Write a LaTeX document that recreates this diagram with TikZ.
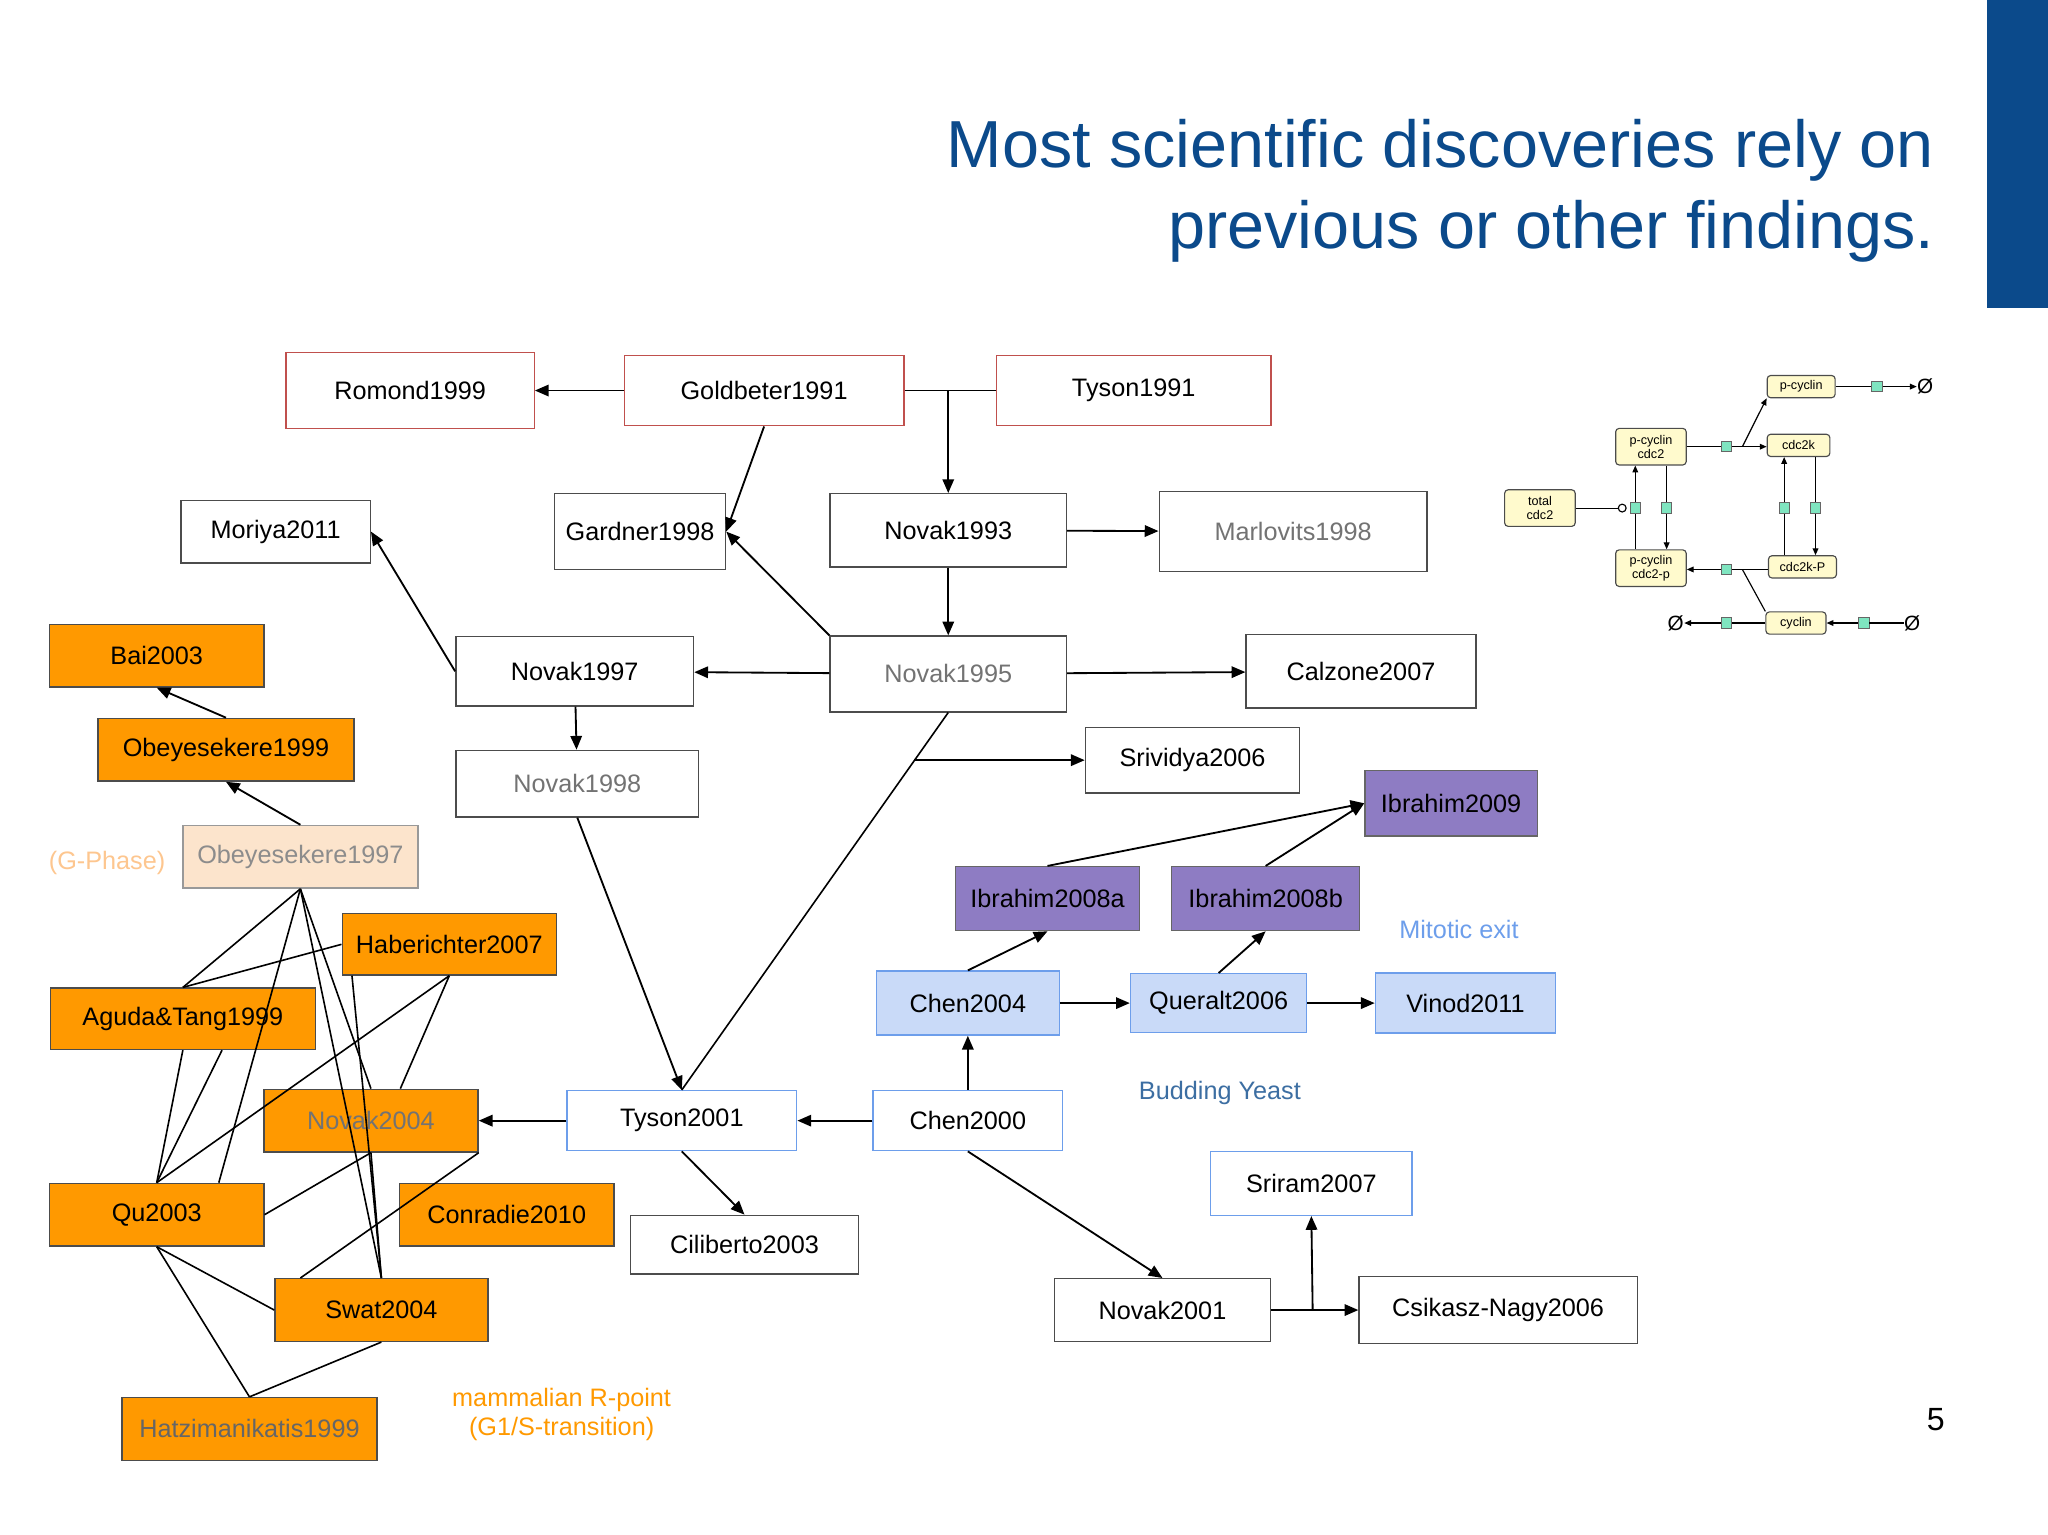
\documentclass[tikz,border=0pt]{standalone}
\usepackage{fontspec}
\setmainfont{Liberation Sans}
\usetikzlibrary{arrows.meta}
\definecolor{tblue}{HTML}{0B4A8B}
\definecolor{redb}{HTML}{C0504D}
\definecolor{orng}{HTML}{FF9900}
\definecolor{peach}{HTML}{FCE4CC}
\definecolor{purp}{HTML}{8E7CC3}
\definecolor{lblue}{HTML}{C9DAF8}
\definecolor{bbord}{HTML}{6D9EEB}
\definecolor{yel}{HTML}{FFFACD}
\definecolor{sq}{HTML}{7FE5C0}
\begin{document}
\begin{tikzpicture}[x=0.02cm,y=-0.02cm,
 wh/.style 2 args={minimum width={#1*0.02cm},minimum height={#2*0.02cm}},
 box/.style={draw=black!70,line width=0.6pt,fill=white,inner sep=0pt,font=\fontsize{11}{13}\selectfont},
 red/.style={box,draw=redb},
 gry/.style={box,text=black!55},
 org/.style={box,fill=orng,draw=black!70},
 pur/.style={box,fill=purp,draw=black!60},
 lb/.style={box,fill=lblue,draw=bbord},
 wb/.style={box,draw=bbord},
 arr/.style={-{Triangle[length=6pt,width=5pt]},line width=0.8pt},
 ln/.style={line width=0.7pt},
 sm/.style={draw=black!70,fill=yel,rounded corners=1.5pt,inner sep=0pt,font=\fontsize{5.5}{6}\selectfont,align=center,line width=0.5pt},
 sq/.style={draw=black!60,fill=sq,minimum size=4.5pt,inner sep=0pt,line width=0.4pt},
 sa/.style={-{Triangle[length=3pt,width=2.5pt]},line width=0.5pt},
 sl/.style={line width=0.5pt}]
\useasboundingbox (0,0) rectangle (1568,1175);
\fill[tblue] (1521,0) rectangle (1568,236);
\node[anchor=east,text=tblue,font=\fontsize{29}{35}\selectfont,align=right] (title) at (1487,146) {Most scientific discoveries rely on\\previous or other findings.};
\node (pg) at (1482,1087) {\fontsize{14}{16}\selectfont 5};
% main nodes
\node[red,wh={190}{58}] (rom) at (314,299) {Romond1999};
\node[red,wh={214}{54}] (gol) at (585,299) {Goldbeter1991};
\node[red,wh={210}{54}] (ty91) at (868,299) {Tyson1991};
\node[box,wh={145}{48}] (mor) at (211,407) {Moriya2011};
\node[box,wh={131}{58}] (gar) at (490,407) {Gardner1998};
\node[box,wh={181}{56}] (n93) at (726,406) {Novak1993};
\node[gry,wh={205}{61}] (mar) at (990,407) {Marlovits1998};
\node[box,wh={182}{53}] (n97) at (440,514) {Novak1997};
\node[gry,wh={181}{58}] (n95) at (726,516) {Novak1995};
\node[box,wh={176}{56}] (cal) at (1042,514) {Calzone2007};
\node[gry,wh={186}{51}] (n98) at (442,600) {Novak1998};
\node[box,wh={164}{50}] (sri) at (913,582) {Srividya2006};
\node[pur,wh={132}{50}] (i09) at (1111,615) {Ibrahim2009};
\node[pur,wh={141}{49}] (i8a) at (802,688) {Ibrahim2008a};
\node[pur,wh={144}{49}] (i8b) at (969,688) {Ibrahim2008b};
\node[text=bbord,font=\fontsize{11}{13}\selectfont] (mit) at (1117,712) {Mitotic exit};
\node[lb,wh={140}{49}] (c04) at (741,768) {Chen2004};
\node[lb,wh={135}{45}] (que) at (933,768) {Queralt2006};
\node[lb,wh={138}{46}] (vin) at (1122,768) {Vinod2011};
\node[text=tblue!80,font=\fontsize{11}{13}\selectfont] (bud) at (934,837) {Budding Yeast};
\node[wb,wh={176}{46}] (t01) at (522,858) {Tyson2001};
\node[wb,wh={145}{46}] (c00) at (741,858) {Chen2000};
\node[box,wh={175}{45}] (cil) at (570,953) {Ciliberto2003};
\node[wb,wh={154}{49}] (srm) at (1004,906) {Sriram2007};
\node[box,wh={165}{48}] (n01) at (890,1003) {Novak2001};
\node[box,wh={213}{51}] (csk) at (1147,1003) {Csikasz-Nagy2006};
% orange
\node[org,wh={164}{48}] (bai) at (120,502) {Bai2003};
\node[org,wh={196}{48}] (o99) at (173,574) {Obeyesekere1999};
\node[box,fill=peach,draw=black!40,text=black!45,wh={180}{48}] (o97) at (230,656) {Obeyesekere1997};
\node[text=peach!70!orange,font=\fontsize{11}{13}\selectfont] (gph) at (82,661) {(G-Phase)};
\node[org,wh={164}{47}] (hab) at (344,723) {Haberichter2007};
\node[org,wh={203}{47}] (agu) at (140,780) {Aguda\&Tang1999};
\node[org,text=black!55,wh={164}{48}] (n04) at (284,858) {Novak2004};
\node[org,wh={164}{48}] (qu) at (120,930) {Qu2003};
\node[org,wh={164}{48}] (con) at (388,930) {Conradie2010};
\node[org,wh={163}{48}] (swa) at (292,1003) {Swat2004};
\node[org,text=black!60,wh={195}{48}] (hat) at (191,1094) {Hatzimanikatis1999};
\node[text=orng,font=\fontsize{11}{13}\selectfont,align=center] (mam) at (430,1083) {mammalian R-point\\(G1/S-transition)};
% main edges
\coordinate (j1) at (726,299);
\draw[arr] (gol) -- (rom);
\draw[ln] (gol) -- (ty91);
\draw[arr] (j1) -- (n93);
\draw[arr] (gol.south) -- (gar.east);
\draw[arr] (n93) -- (mar);
\draw[arr] (n93) -- (n95);
\draw[arr] (n95.north west) -- (gar.east);
\draw[arr] (n95) -- (n97);
\draw[arr] (n97.west) -- (mor.east);
\draw[arr] (n97) -- (n98);
\draw[arr] (n95) -- (cal);
\draw[ln] (n95.south) -- (t01.north);
\coordinate (j2) at (700,582);
\draw[arr] (j2) -- (sri);
\draw[arr] (n98.south) -- (t01.north);
\draw[arr] (t01.south) -- (cil.north);
\draw[arr] (t01) -- (n04);
\draw[arr] (c00) -- (t01);
\draw[arr] (c00) -- (c04);
\draw[arr] (c00.south) -- (n01.north);
\draw[arr] (n01) -- (csk);
\coordinate (j3) at (1005,1003);
\draw[arr] (j3) -- (srm.south);
\draw[arr] (c04) -- (que);
\draw[arr] (que) -- (vin);
\draw[arr] (c04.north) -- (i8a.south);
\draw[arr] (que.north) -- (i8b.south);
\draw[arr] (i8a.north) -- (i09.west);
\draw[arr] (i8b.north) -- (i09.west);
% orange edges
\draw[arr] (o99.north) -- (bai.south);
\draw[arr] (o97.north) -- (o99.south);
\draw[ln] (o97.south) -- (agu.north);
\draw[ln] (o97.south) -- (n04.north);
\draw[ln] (o97.south) -- (swa.north);
\draw[ln] (o97.south) -- ([xshift={-35*0.02cm}]qu.north east);
\draw[ln] (hab.west) -- (agu.north);
\draw[ln] (hab.south) -- (qu.north);
\draw[ln] (hab.south) -- ([xshift={-60*0.02cm}]n04.north east);
\draw[ln] ([xshift={8*0.02cm}]hab.south west) -- (swa.north);
\draw[ln] (agu.south) -- (qu.north);
\draw[ln] ([xshift={30*0.02cm}]agu.south) -- (qu.north);
\draw[ln] (qu.east) -- (n04.south);
\draw[ln] (n04.south) -- (swa.north);
\draw[ln] ([xshift={20*0.02cm}]swa.north west) -- (n04.south east);
\draw[ln] (hat.north) -- (qu.south);
\draw[ln] (hat.north) -- (swa.south);
\draw[ln] (qu.south) -- (swa.west);
% small diagram
\node[sm,wh={52}{17}] (pc) at (1379,296) {p-cyclin};
\node[sm,wh={54}{28}] (pcc) at (1264,342) {p-cyclin\\cdc2};
\node[sm,wh={48}{17}] (ck) at (1377,341) {cdc2k};
\node[sm,wh={54}{28}] (tot) at (1179,389) {total\\cdc2};
\node[sm,wh={54}{28}] (pcp) at (1264,435) {p-cyclin\\cdc2-p};
\node[sm,wh={52}{17}] (ckp) at (1380,434) {cdc2k-P};
\node[sm,wh={46}{17}] (cyc) at (1375,477) {cyclin};
\node[inner sep=0pt,font=\fontsize{9}{10}\selectfont] (e1) at (1474,296) {Ø};
\node[inner sep=0pt,font=\fontsize{9}{10}\selectfont] (e2) at (1283,477) {Ø};
\node[inner sep=0pt,font=\fontsize{9}{10}\selectfont] (e3) at (1464,477) {Ø};
\node[sq] (s1) at (1437,296) {};
\node[sq] (s2) at (1322,342) {};
\node[sq] (s3) at (1252,389) {};
\node[sq] (s4) at (1276,389) {};
\node[sq] (s5) at (1366,389) {};
\node[sq] (s6) at (1390,389) {};
\node[sq] (s7) at (1322,436) {};
\node[sq] (s8) at (1322,477) {};
\node[sq] (s9) at (1427,477) {};
\draw[sl] (pc) -- (s1); \draw[sa] (s1) -- (e1);
\draw[sl] (pcc.east|-s2) -- (s2); \draw[sa] (s2) -- (ck.west|-s2);
\coordinate (j4) at (1334,342);
\draw[sa] (j4) -- (pc.south west);
\draw[sl] (pcp.north-|s3) -- (s3); \draw[sa] (s3) -- (pcc.south-|s3);
\draw[sl] (pcc.south-|s4) -- (s4); \draw[sa] (s4) -- (pcp.north-|s4);
\draw[sl] (ckp.north-|s5) -- (s5); \draw[sa] (s5) -- (ck.south-|s5);
\draw[sl] (ck.south-|s6) -- (s6); \draw[sa] (s6) -- (ckp.north-|s6);
\draw[sl] (tot.east) -- (1239,389); \draw[sl,fill=white] (1242,389) circle (3);
\draw[sl] (ckp.west|-s7) -- (s7); \draw[sa] (s7) -- (pcp.east|-s7);
\coordinate (j5) at (1334,436);
\draw[sl] (cyc.north west) -- (j5);
\draw[sl] (cyc) -- (s8); \draw[sa] (s8) -- (e2);
\draw[sl] (e3) -- (s9); \draw[sa] (s9) -- (cyc);
\end{tikzpicture}
\end{document}
